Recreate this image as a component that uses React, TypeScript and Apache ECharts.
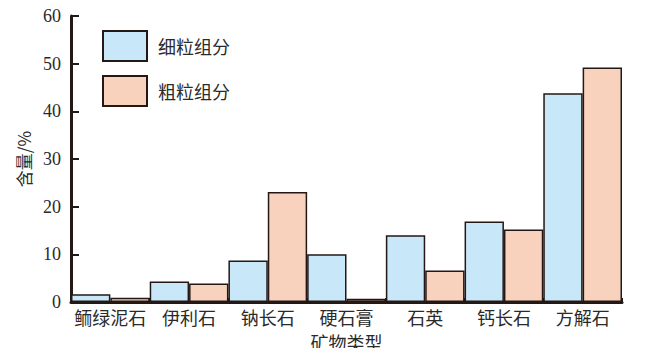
import React, { useEffect, useRef } from "react";
import * as echarts from "echarts";

const categories = ["鲕绿泥石", "伊利石", "钠长石", "硬石膏", "石英", "钙长石", "方解石"];
const fineValues = [1.6, 4.3, 8.7, 10.0, 14.0, 16.9, 43.8];
const coarseValues = [0.9, 3.9, 23.1, 0.7, 6.6, 15.2, 49.2];
const seriesNames = ["细粒组分", "粗粒组分"];
const yTicks = [0, 10, 20, 30, 40, 50, 60];

const DARK = "#231815";
const TEXT = "#2a2a2a";
const CJK = "'Noto Sans CJK SC', sans-serif";
const SERIF = "'Liberation Serif', 'Times New Roman', serif";

export default function App() {
  const ref = useRef<HTMLDivElement>(null);
  useEffect(() => {
    if (!ref.current) return;
    const chart = echarts.init(ref.current, undefined, { renderer: "svg" });
    chart.setOption({
      animation: false,
      backgroundColor: "#ffffff",
      grid: { left: 71, right: 32, top: 16, bottom: 54, containLabel: false, outerBoundsMode: "none" },
      legend: {
        orient: "vertical",
        left: 102,
        top: 30,
        padding: 0,
        itemWidth: 44,
        itemHeight: 30,
        itemGap: 13,
        icon: "rect",
        textStyle: { fontFamily: CJK, fontSize: 18, color: TEXT, padding: [0, 0, 0, 6] },
        data: seriesNames,
      },
      xAxis: {
        type: "category",
        data: categories,
        boundaryGap: true,
        name: "矿物类型",
        nameLocation: "middle",
        nameGap: 31,
        nameMoveOverlap: false,
        nameTextStyle: { fontFamily: CJK, fontSize: 18, lineHeight: 18, color: TEXT },
        axisLine: { lineStyle: { color: DARK, width: 3 } },
        axisTick: { show: true, inside: true, length: 4, lineStyle: { color: DARK, width: 2 } },
        axisLabel: { interval: 0, fontFamily: CJK, fontSize: 18, lineHeight: 18, color: TEXT, margin: 6 },
        splitLine: { show: false },
      },
      yAxis: {
        type: "value",
        min: 0,
        max: 60,
        interval: 10,
        name: "含量/%",
        nameLocation: "middle",
        nameGap: 38,
        nameRotate: 90,
        nameTextStyle: { fontFamily: CJK, fontSize: 17, color: TEXT },
        axisLine: { show: true, lineStyle: { color: DARK, width: 3 } },
        axisTick: { show: true, inside: true, length: 8, lineStyle: { color: DARK, width: 2 } },
        axisLabel: {
          fontFamily: SERIF,
          fontSize: 18,
          color: TEXT,
          margin: 10,
          formatter: (v: number) => (yTicks.includes(v) ? String(v) : ""),
        },
        splitLine: { show: false },
      },
      series: [
        {
          name: seriesNames[0],
          type: "bar",
          data: fineValues,
          barGap: "0%",
          barCategoryGap: "0%",
          itemStyle: { color: "#c8e7f9", borderColor: DARK, borderWidth: 1.5 },
        },
        {
          name: seriesNames[1],
          type: "bar",
          data: coarseValues,
          barGap: "0%",
          barCategoryGap: "0%",
          itemStyle: { color: "#f9d2bd", borderColor: DARK, borderWidth: 1.5 },
        },
      ],
    });
    return () => chart.dispose();
  }, []);
  return <div ref={ref} style={{ width: 654, height: 356, margin: -8 }} />;
}
